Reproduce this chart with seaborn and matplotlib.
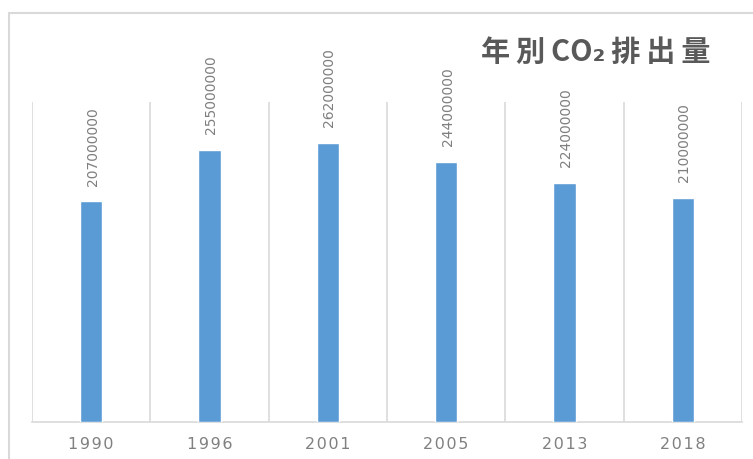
import matplotlib
matplotlib.use("Agg")
import matplotlib.pyplot as plt
from matplotlib.patches import Rectangle
import seaborn as sns
import pandas as pd

years = ["1990", "1996", "2001", "2005", "2013", "2018"]
emissions = [207000000, 255000000, 262000000, 244000000, 224000000, 210000000]
title_text = "年別CO₂排出量"

sns.set_theme(style="white")
plt.rcParams["font.family"] = ["Noto Sans CJK JP", "DejaVu Sans"]

W, H = 753, 460
fig = plt.figure(figsize=(W / 100, H / 100), dpi=100)
fig.patch.set_facecolor("white")

# outer chart frame
fig.add_artist(Rectangle((9 / W, -0.1), 1.2, (H - 14) / H + 0.1,
                         transform=fig.transFigure, fill=False,
                         edgecolor="#D9D9D9", linewidth=1.5))

ax = fig.add_axes([32 / W, (H - 423) / H, (742 - 32) / W, (423 - 103) / H])
df = pd.DataFrame({"year": years, "value": emissions})
sns.barplot(data=df, x="year", y="value", color="#5B9BD5", saturation=1,
            width=0.186, ax=ax, zorder=3)

ax.set_ylim(0, 300000000)
ax.set_xlim(-0.5, len(years) - 0.5)

# category separators
for i in range(len(years) + 1):
    ax.axvline(i - 0.5, color="#D9D9D9", linewidth=1.2, zorder=1)

for s in ["left", "right", "top"]:
    ax.spines[s].set_visible(False)
ax.spines["bottom"].set_color("#D9D9D9")
ax.spines["bottom"].set_linewidth(1.2)

ax.set_yticks([])
ax.set_xlabel("")
ax.set_ylabel("")

# spaced-out year labels
spaced = ["\u200a".join(y) for y in years]
ax.set_xticks(range(len(years)))
ax.set_xticklabels(spaced, fontsize=11.5, color="#808080",
                   fontfamily=["DejaVu Sans"])
ax.tick_params(axis="x", length=0, pad=10)

# value labels above bars
for i, v in enumerate(emissions):
    ax.annotate(f"{v}", (i, v), xytext=(1, 12), textcoords="offset points",
                rotation=90, ha="center", va="bottom", fontsize=10,
                color="#7F7F7F", family=["DejaVu Sans"])

# title with a little tracking between the characters
title_spaced = title_text.replace("別", "\u2009別\u2009").replace("排", "\u2009排\u2009").replace("出", "出\u2009")
fig.text(710 / W, 1 - 52 / H, title_spaced, ha="right", va="center",
         fontsize=21, fontweight="bold", color="#595959",
         family=["Noto Sans CJK JP", "DejaVu Sans"])

fig.savefig("out.png", dpi=100)
